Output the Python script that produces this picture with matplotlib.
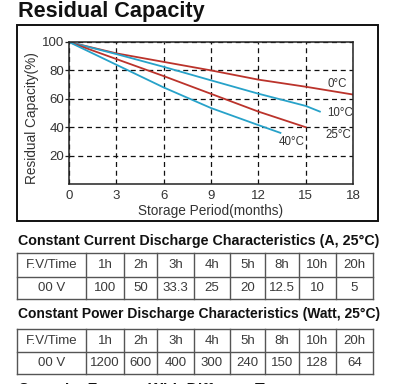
import matplotlib
matplotlib.use("Agg")
import matplotlib.pyplot as plt
from matplotlib.patches import Rectangle

# ---------------- data ----------------
months_0 = [0, 3, 6, 9, 12, 15, 18]
cap_0 = [100, 92, 86, 80, 73.5, 68.5, 63]
months_10 = [0, 3, 6, 9, 12, 15, 15.9]
cap_10 = [100, 91.5, 82.5, 73, 63.6, 55, 51]
months_25 = [0, 3, 6, 9, 12, 15]
cap_25 = [100, 88, 76, 63.5, 51, 40]
months_40 = [0, 3, 6, 9, 12, 13.4]
cap_40 = [100, 84, 68, 53.5, 41.5, 36]

time_labels = ["1h", "2h", "3h", "4h", "5h", "8h", "10h", "20h"]
fv_label = "00 V"
current_values = ["100", "50", "33.3", "25", "20", "12.5", "10", "5"]
power_values = ["1200", "600", "400", "300", "240", "150", "128", "64"]

RED = "#bb332b"
BLUE = "#27a2c9"
TXT = "#333333"

plt.rcParams['font.family'] = ['Liberation Sans', 'DejaVu Sans']

fig = plt.figure(figsize=(3.95, 3.84), dpi=100)
fig.patch.set_facecolor("white")

# overlay in pixel coordinates
ov = fig.add_axes([0, 0, 1, 1])
ov.set_xlim(0, 395)
ov.set_ylim(384, 0)
ov.axis("off")

ov.add_patch(Rectangle((17, 25), 361, 196, fill=False, lw=1.4, ec="#111111"))

# ---------------- chart ----------------
ax = fig.add_axes([69 / 395, 1 - 184 / 384, 284 / 395, 142 / 384])
ax.set_xlim(0, 18)
ax.set_ylim(0, 100)
ax.set_xticks(range(0, 19, 3))
ax.set_yticks([20, 40, 60, 80, 100])
ax.grid(True, ls=(0, (4, 3)), color="#111111", lw=0.9)
ax.set_axisbelow(True)
for s in ax.spines.values():
    s.set_linewidth(1.1)
    s.set_color("#222222")
ax.tick_params(axis="both", labelsize=9.5, labelcolor=TXT)
ax.tick_params(axis="y", length=3, width=0.9, color="#222222", pad=0.5)
ax.tick_params(axis="x", length=0, pad=4)

ax.plot(months_0, cap_0, color=RED, lw=1.3)
ax.plot(months_10, cap_10, color=BLUE, lw=1.3)
ax.plot(months_25, cap_25, color=RED, lw=1.3)
ax.plot(months_40, cap_40, color=BLUE, lw=1.3)

lab_kw = dict(fontsize=8.3, color=TXT, ha="center", va="center")
ax.text(17.0, 70.5, "0°C", **lab_kw)
ax.text(17.2, 50, "10°C", **lab_kw)
ax.text(17.1, 34.5, "25°C", **lab_kw)
ax.text(14.1, 29.5, "40°C", **lab_kw)

ax.set_xlabel("Storage Period(months)", fontsize=9.8, color=TXT, labelpad=2)
ax.set_ylabel("Residual Capacity(%)", fontsize=9.8, color=TXT)
ax.yaxis.set_label_coords(-0.105, 0.465)

# ---------------- titles ----------------
renderer = fig.canvas.get_renderer()


def fit_text(x, y, s, target_w, base=10):
    t = ov.text(x, y, s, fontsize=base, fontweight="bold", color="#111111",
                ha="left", va="center")
    w = t.get_window_extent(renderer).width
    t.set_fontsize(base * target_w / w)
    return t


fit_text(18, 12, "Residual Capacity", 186)
fit_text(18, 241, "Constant Current Discharge Characteristics (A, 25°C)", 362)
fit_text(18, 314, "Constant Power Discharge Characteristics (Watt, 25°C)", 361)
fit_text(18, 391, "Capacity Factors With Different Temperature", 330)

# ---------------- tables ----------------
edges = [17, 86, 124, 157, 194, 230, 265, 299, 336, 373]


def draw_table(top, mid, bot, values):
    lc = "#555555"
    for yy in (top, mid, bot):
        ov.plot([edges[0], edges[-1]], [yy, yy], color=lc, lw=1.0)
    for xx in edges:
        ov.plot([xx, xx], [top, bot], color=lc, lw=1.0)
    row1 = ["F.V/Time"] + time_labels
    row2 = [fv_label] + values
    for i in range(len(edges) - 1):
        cx = (edges[i] + edges[i + 1]) / 2
        ov.text(cx, (top + mid) / 2 + 0.5, row1[i], fontsize=9.5, color="#3a3a3a",
                ha="center", va="center")
        ov.text(cx, (mid + bot) / 2 + 0.5, row2[i], fontsize=9.5, color="#3a3a3a",
                ha="center", va="center")


draw_table(253, 276.5, 299, current_values)
draw_table(328.5, 351.5, 373.5, power_values)

fig.savefig("out.png", dpi=100)
